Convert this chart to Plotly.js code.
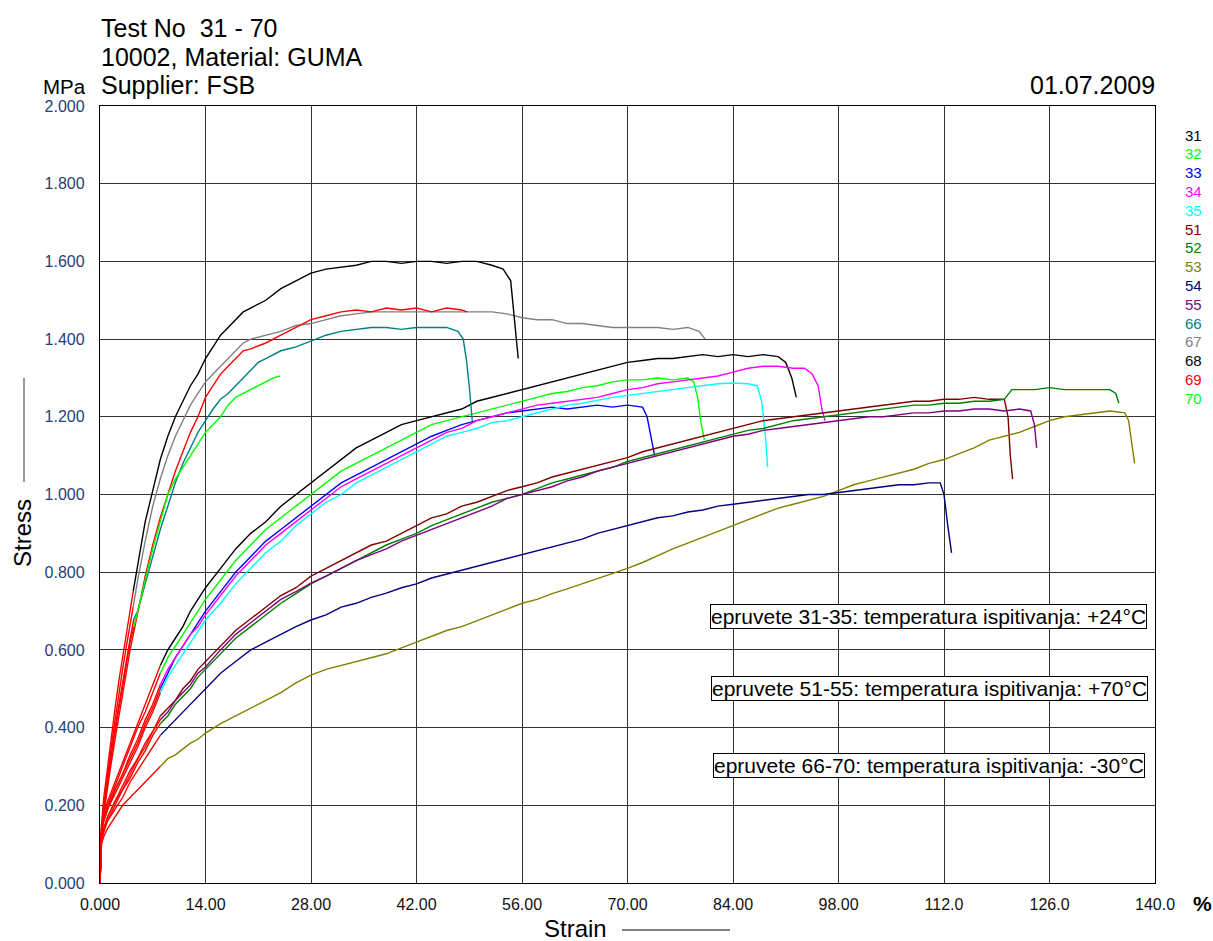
<!DOCTYPE html>
<html><head><meta charset="utf-8">
<script src="https://cdn.plot.ly/plotly-3.0.1.min.js"></script>
<style>html,body{margin:0;padding:0;background:#fff;}#chart{width:1213px;height:941px;}</style>
</head><body><div id="chart"></div>
<script>
// ---------- tick labels ----------
const xTickVals = [0,14,28,42,56,70,84,98,112,126,140];
const xTickText = ['0.000','14.00','28.00','42.00','56.00','70.00','84.00','98.00','112.0','126.0','140.0'];
const yTickVals = [0,0.2,0.4,0.6,0.8,1.0,1.2,1.4,1.6,1.8,2.0];
const yTickText = ['0.000','0.200','0.400','0.600','0.800','1.000','1.200','1.400','1.600','1.800','2.000'];

// ---------- specimens ----------
const seriesNames  = ['31','32','33','34','35','51','52','53','54','55','66','67','68','69','70'];
const seriesColors = ['#000000','#00ff00','#0000ff','#ff00ff','#00ffff','#800000','#008000','#808000','#000080','#800080','#008080','#808080','#000000','#ff0000','#00ff00'];
const preloadEnd   = [8,8,8,8,8,8,8,8,8,8,4.5,4.5,4.5,4.5,4.5];

// +24 °C
const x31 = [0,0.2,0.5,1,2,3,4,5,6,7,8,9,10,11,12,13,14,16,18,20,22,24,26,28,30,32,34,36,38,40,42,44,46,48,50,52,54,56,58,60,62,64,66,68,70,72,74,76,78,80,82,84,86,88,90,91,91.8,92.4];
const y31 = [0,0.15,0.18,0.21,0.26,0.31,0.36,0.41,0.46,0.51,0.56,0.6,0.63,0.66,0.7,0.73,0.76,0.81,0.86,0.9,0.93,0.97,1.0,1.03,1.06,1.09,1.12,1.14,1.16,1.18,1.19,1.2,1.21,1.22,1.24,1.25,1.26,1.27,1.28,1.29,1.3,1.31,1.32,1.33,1.34,1.345,1.35,1.35,1.355,1.36,1.355,1.36,1.355,1.36,1.355,1.34,1.3,1.25];
const x32 = [0,0.2,0.5,1,2,3,4,5,6,7,8,9,10,11,12,13,14,16,18,20,22,24,26,28,30,32,34,36,38,40,42,44,46,48,50,52,54,56,58,60,62,64,66,68,70,72,74,76,78,78.8,79.3,79.8,80.2];
const y32 = [0,0.14,0.17,0.2,0.25,0.3,0.35,0.4,0.44,0.49,0.54,0.58,0.61,0.64,0.67,0.7,0.73,0.78,0.83,0.87,0.91,0.94,0.97,1.0,1.03,1.06,1.08,1.1,1.12,1.14,1.16,1.18,1.19,1.2,1.21,1.22,1.23,1.24,1.25,1.26,1.265,1.275,1.28,1.29,1.295,1.295,1.3,1.295,1.3,1.29,1.25,1.18,1.14];
const x33 = [0,0.2,0.5,1,2,3,4,5,6,7,8,9,10,11,12,13,14,16,18,20,22,24,26,28,30,32,34,36,38,40,42,44,46,48,50,52,54,56,58,60,62,64,66,68,70,72,72.6,73.1,73.6];
const y33 = [0,0.14,0.16,0.19,0.24,0.28,0.32,0.36,0.41,0.45,0.5,0.54,0.58,0.61,0.64,0.67,0.7,0.75,0.8,0.84,0.88,0.91,0.94,0.97,1.0,1.03,1.05,1.07,1.09,1.11,1.13,1.15,1.165,1.18,1.19,1.2,1.21,1.215,1.22,1.225,1.22,1.225,1.23,1.225,1.23,1.225,1.2,1.15,1.1];
const x34 = [0,0.2,0.5,1,2,3,4,5,6,7,8,9,10,11,12,13,14,16,18,20,22,24,26,28,30,32,34,36,38,40,42,44,46,48,50,52,54,56,58,60,62,64,66,68,70,72,74,76,78,80,82,84,86,88,90,92,93.5,94.5,95.3,95.8,96.2];
const y34 = [0,0.14,0.16,0.19,0.24,0.28,0.33,0.37,0.42,0.46,0.51,0.55,0.58,0.61,0.64,0.66,0.69,0.74,0.79,0.83,0.87,0.9,0.93,0.96,0.99,1.02,1.04,1.06,1.08,1.1,1.12,1.14,1.16,1.17,1.19,1.2,1.21,1.22,1.23,1.235,1.24,1.245,1.25,1.26,1.27,1.275,1.285,1.29,1.295,1.3,1.305,1.315,1.325,1.33,1.33,1.325,1.325,1.31,1.28,1.22,1.19];
const x35 = [0,0.2,0.5,1,2,3,4,5,6,7,8,9,10,11,12,13,14,16,18,20,22,24,26,28,30,32,34,36,38,40,42,44,46,48,50,52,54,56,58,60,62,64,66,68,70,72,74,76,78,80,82,84,86,87.2,87.8,88.3,88.6];
const y35 = [0,0.13,0.16,0.19,0.23,0.27,0.31,0.35,0.4,0.44,0.49,0.53,0.56,0.59,0.62,0.65,0.677,0.72,0.77,0.81,0.85,0.88,0.92,0.95,0.98,1.0,1.03,1.05,1.07,1.09,1.11,1.13,1.15,1.16,1.17,1.185,1.19,1.2,1.21,1.22,1.23,1.235,1.243,1.25,1.255,1.26,1.265,1.27,1.275,1.28,1.285,1.287,1.285,1.28,1.24,1.15,1.07];

// +70 °C
const x51 = [0,0.2,0.5,1,2,3,4,5,6,7,8,9,10,11,12,13,14,16,18,20,22,24,26,28,30,32,34,36,38,40,42,44,46,48,50,52,54,56,58,60,62,64,66,68,70,72,74,76,78,80,82,84,86,88,90,92,94,96,98,100,102,104,106,108,110,112,114,116,118,120,120.5,120.8,121.1];
const y51 = [0,0.12,0.14,0.17,0.21,0.25,0.29,0.32,0.36,0.39,0.43,0.45,0.47,0.5,0.52,0.55,0.57,0.61,0.65,0.68,0.71,0.74,0.76,0.79,0.81,0.83,0.85,0.87,0.88,0.9,0.92,0.94,0.95,0.97,0.98,0.995,1.01,1.02,1.03,1.045,1.055,1.065,1.075,1.085,1.095,1.11,1.12,1.13,1.14,1.15,1.16,1.17,1.18,1.19,1.195,1.2,1.205,1.21,1.215,1.22,1.225,1.23,1.235,1.24,1.24,1.245,1.245,1.25,1.245,1.245,1.2,1.1,1.04];
const x52 = [0,0.2,0.5,1,2,3,4,5,6,7,8,9,10,11,12,13,14,16,18,20,22,24,26,28,30,32,34,36,38,40,42,44,46,48,50,52,54,56,58,60,62,64,66,68,70,72,74,76,78,80,82,84,86,88,90,92,94,96,98,100,102,104,106,108,110,112,114,116,118,120,121,122,124,126,128,130,132,134,134.8,135.2];
const y52 = [0,0.12,0.14,0.16,0.2,0.24,0.27,0.31,0.34,0.38,0.41,0.43,0.46,0.48,0.5,0.53,0.55,0.59,0.63,0.66,0.69,0.72,0.745,0.77,0.79,0.81,0.83,0.85,0.87,0.885,0.9,0.92,0.935,0.95,0.965,0.98,0.99,1.0,1.015,1.03,1.04,1.05,1.06,1.07,1.085,1.095,1.105,1.115,1.125,1.135,1.145,1.155,1.165,1.17,1.18,1.19,1.195,1.2,1.205,1.21,1.215,1.22,1.225,1.23,1.23,1.235,1.235,1.24,1.24,1.245,1.27,1.27,1.27,1.275,1.27,1.27,1.27,1.27,1.26,1.235];
const x53 = [0,0.2,0.5,1,2,3,4,5,6,7,8,9,10,11,12,13,14,16,18,20,22,24,26,28,30,32,34,36,38,40,42,44,46,48,50,52,54,56,58,60,62,64,66,68,70,72,74,76,78,80,82,84,86,88,90,92,94,96,98,100,102,104,106,108,110,112,114,116,118,120,122,124,126,128,130,132,134,136,136.5,137,137.3];
const y53 = [0,0.1,0.12,0.14,0.17,0.2,0.22,0.24,0.26,0.28,0.3,0.32,0.33,0.345,0.36,0.37,0.386,0.41,0.43,0.45,0.47,0.49,0.515,0.535,0.55,0.56,0.57,0.58,0.59,0.605,0.62,0.635,0.65,0.66,0.675,0.69,0.705,0.72,0.73,0.745,0.757,0.77,0.782,0.795,0.81,0.825,0.843,0.86,0.875,0.89,0.905,0.92,0.935,0.95,0.965,0.975,0.985,0.995,1.01,1.025,1.035,1.045,1.055,1.065,1.08,1.09,1.105,1.12,1.14,1.15,1.16,1.175,1.19,1.2,1.205,1.21,1.215,1.21,1.19,1.12,1.08];
const x54 = [0,0.2,0.5,1,2,3,4,5,6,7,8,9,10,11,12,13,14,16,18,20,22,24,26,28,30,32,34,36,38,40,42,44,46,48,50,52,54,56,58,60,62,64,66,68,70,72,74,76,78,80,82,84,86,88,90,92,94,96,98,100,102,104,106,108,110,111.5,112,112.5,113];
const y54 = [0,0.11,0.13,0.16,0.19,0.22,0.26,0.29,0.32,0.35,0.38,0.4,0.42,0.44,0.46,0.48,0.5,0.54,0.57,0.6,0.62,0.64,0.66,0.677,0.69,0.71,0.72,0.735,0.746,0.76,0.77,0.785,0.795,0.805,0.815,0.825,0.835,0.845,0.855,0.865,0.875,0.885,0.9,0.91,0.92,0.93,0.94,0.945,0.955,0.96,0.97,0.975,0.98,0.985,0.99,0.995,1.0,1.0,1.005,1.01,1.015,1.02,1.025,1.025,1.03,1.03,1.0,0.92,0.85];
const x55 = [0,0.2,0.5,1,2,3,4,5,6,7,8,9,10,11,12,13,14,16,18,20,22,24,26,28,30,32,34,36,38,40,42,44,46,48,50,52,54,56,58,60,62,64,66,68,70,72,74,76,78,80,82,84,86,88,90,92,94,96,98,100,102,104,106,108,110,112,114,116,118,120,122,123.5,124,124.3];
const y55 = [0,0.12,0.14,0.17,0.21,0.24,0.28,0.32,0.35,0.39,0.42,0.44,0.47,0.49,0.51,0.54,0.556,0.6,0.64,0.67,0.7,0.73,0.75,0.772,0.79,0.81,0.83,0.845,0.86,0.88,0.895,0.91,0.925,0.94,0.955,0.97,0.99,1.0,1.01,1.02,1.035,1.045,1.06,1.07,1.08,1.09,1.1,1.11,1.12,1.13,1.14,1.15,1.155,1.165,1.17,1.175,1.18,1.185,1.19,1.195,1.2,1.2,1.205,1.21,1.21,1.215,1.215,1.22,1.22,1.215,1.22,1.215,1.18,1.12];

// -30 °C
const x66 = [0,0.2,0.5,1,1.5,2,2.5,3,3.5,4,4.5,5,6,7,8,9,10,11,12,13,14,15,16,17,18,19,20,21,22,24,26,28,30,32,34,36,38,40,42,44,46,47.5,48.2,48.6,49,49.4];
const y66 = [0,0.12,0.18,0.26,0.33,0.4,0.46,0.52,0.58,0.63,0.68,0.7,0.77,0.84,0.91,0.97,1.03,1.08,1.12,1.16,1.19,1.22,1.245,1.26,1.28,1.3,1.32,1.34,1.35,1.37,1.38,1.395,1.41,1.42,1.425,1.43,1.43,1.425,1.43,1.43,1.43,1.42,1.4,1.35,1.28,1.19];
const x67 = [0,0.2,0.5,1,1.5,2,2.5,3,3.5,4,4.4,5,6,7,8,9,10,11,12,13,14,15,16,17,18,19,20,22,24,26,28,30,32,34,36,38,40,42,44,46,48,50,52,54,56,58,60,62,64,66,68,70,72,74,76,78,79.5,80.3];
const y67 = [0,0.13,0.2,0.28,0.35,0.42,0.49,0.55,0.61,0.67,0.71,0.78,0.88,0.97,1.04,1.1,1.15,1.19,1.23,1.26,1.29,1.31,1.33,1.35,1.37,1.39,1.4,1.41,1.42,1.435,1.44,1.45,1.46,1.465,1.47,1.47,1.47,1.47,1.47,1.47,1.47,1.47,1.47,1.465,1.455,1.45,1.45,1.44,1.44,1.435,1.43,1.43,1.43,1.43,1.425,1.43,1.42,1.4];
const x68 = [0,0.2,0.5,1,1.5,2,2.5,3,3.5,4,4.4,5,6,7,8,9,10,11,12,13,14,15,16,17,18,19,20,22,24,26,28,30,32,34,36,38,40,42,44,46,48,50,52,53.5,54.5,55,55.5];
const y68 = [0,0.15,0.22,0.3,0.37,0.45,0.52,0.58,0.64,0.7,0.75,0.82,0.93,1.01,1.09,1.15,1.2,1.24,1.28,1.31,1.35,1.38,1.41,1.43,1.45,1.47,1.48,1.5,1.53,1.55,1.57,1.58,1.585,1.59,1.6,1.6,1.595,1.6,1.6,1.595,1.6,1.6,1.59,1.58,1.55,1.45,1.35];
const x69 = [0,0.2,0.5,1,1.5,2,2.5,3,3.5,4,5,6,7,8,9,10,11,12,13,14,15,16,17,18,19,20,22,24,26,28,30,32,34,36,38,40,42,44,46,48,48.7];
const y69 = [0,0.12,0.18,0.25,0.31,0.37,0.43,0.49,0.55,0.6,0.7,0.79,0.87,0.94,1.0,1.06,1.11,1.16,1.2,1.25,1.28,1.31,1.33,1.35,1.37,1.375,1.39,1.41,1.43,1.45,1.46,1.47,1.475,1.47,1.48,1.475,1.48,1.47,1.48,1.475,1.47];
const x70 = [0,0.2,0.5,1,1.5,2,2.5,3,3.5,4,4.5,5,6,7,8,9,10,11,12,13,14,15,16,17,18,19,20,21,22,23,23.9];
const y70 = [0,0.12,0.18,0.26,0.33,0.39,0.45,0.51,0.57,0.62,0.66,0.7,0.78,0.86,0.93,1.0,1.04,1.07,1.1,1.13,1.16,1.18,1.2,1.23,1.25,1.26,1.27,1.28,1.29,1.3,1.305];

const allX = [x31,x32,x33,x34,x35,x51,x52,x53,x54,x55,x66,x67,x68,x69,x70];
const allY = [y31,y32,y33,y34,y35,y51,y52,y53,y54,y55,y66,y67,y68,y69,y70];

// ---------- text ----------
const headerLines = ['Test No\u00a0\u00a031 - 70','10002, Material: GUMA','Supplier: FSB'];
const dateText = '01.07.2009';
const noteTexts = ['epruvete 31-35: temperatura ispitivanja: +24°C','epruvete 51-55: temperatura ispitivanja: +70°C','epruvete 66-70: temperatura ispitivanja: -30°C'];

// ---------- build ----------
const FONT = 'Liberation Sans, Arial, sans-serif';
const traces = [];
const preTraces = [];
for (let i = 0; i < seriesNames.length; i++) {
  const xs = allX[i], ys = allY[i];
  let cut = 0;
  for (let k = 0; k < xs.length; k++) { if (xs[k] <= preloadEnd[i]) cut = k; }
  traces.push({x: xs.slice(cut), y: ys.slice(cut), type: 'scatter', mode: 'lines', name: seriesNames[i],
    line: {color: seriesColors[i], width: 1.4}, showlegend: false, hoverinfo: 'skip'});
  preTraces.push({x: xs.slice(0, cut + 1), y: ys.slice(0, cut + 1), type: 'scatter', mode: 'lines', name: seriesNames[i] + ' pre',
    line: {color: '#ff0000', width: 1.4}, showlegend: false, hoverinfo: 'skip'});
}

// plot area in pixels
const L = 100, R = 1155, T = 106, B = 883;
const px2x = p => (p - L) / (R - L);
const px2y = p => (B - p) / (B - T);

const ann = [];
headerLines.forEach((t, i) => ann.push({text: t, xref: 'paper', yref: 'paper', x: px2x(99), y: px2y([28, 57, 85][i]),
  xanchor: 'left', yanchor: 'middle', showarrow: false, font: {family: FONT, size: 25, color: '#000'}}));
ann.push({text: dateText, xref: 'paper', yref: 'paper', x: px2x(1157), y: px2y(85), xanchor: 'right', yanchor: 'middle',
  showarrow: false, font: {family: FONT, size: 25, color: '#000'}});
ann.push({text: 'MPa', xref: 'paper', yref: 'paper', x: px2x(88), y: px2y(87), xanchor: 'right', yanchor: 'middle',
  showarrow: false, font: {family: FONT, size: 20.5, color: '#000'}});
ann.push({text: '%', xref: 'paper', yref: 'paper', x: px2x(1191), y: px2y(903), xanchor: 'left', yanchor: 'middle',
  showarrow: false, font: {family: FONT, size: 21, color: '#000', weight: 'bold'}});
ann.push({text: 'Strain', xref: 'paper', yref: 'paper', x: px2x(575), y: px2y(928), xanchor: 'center', yanchor: 'middle',
  showarrow: false, font: {family: FONT, size: 24, color: '#000'}});
ann.push({text: 'Stress', xref: 'paper', yref: 'paper', x: px2x(22), y: px2y(533), xanchor: 'center', yanchor: 'middle',
  textangle: -90, showarrow: false, font: {family: FONT, size: 24, color: '#000'}});
const noteY = [616, 688, 765], noteX = [928, 929, 929];
noteTexts.forEach((t, i) => ann.push({text: t, xref: 'paper', yref: 'paper', x: px2x(noteX[i]), y: px2y(noteY[i]),
  xanchor: 'center', yanchor: 'middle', showarrow: false, bgcolor: '#fff', bordercolor: '#000', borderwidth: 1, borderpad: 0,
  font: {family: FONT, size: 21, color: '#000'}}));
seriesNames.forEach((n, i) => ann.push({text: n, xref: 'paper', yref: 'paper', x: px2x(1204), y: px2y(135 + i * 18.8),
  xanchor: 'right', yanchor: 'middle', showarrow: false, font: {family: FONT, size: 15, color: seriesColors[i]}}));

const shapes = [
  {type: 'line', xref: 'paper', yref: 'paper', x0: px2x(622), x1: px2x(730), y0: px2y(930), y1: px2y(930), line: {color: '#000', width: 1}},
  {type: 'line', xref: 'paper', yref: 'paper', x0: px2x(24), x1: px2x(24), y0: px2y(378), y1: px2y(482), line: {color: '#555', width: 1.2}}
];

const layout = {
  width: 1213, height: 941,
  margin: {l: L, r: 1213 - R, t: T, b: 941 - B, pad: 0},
  paper_bgcolor: '#fff', plot_bgcolor: '#fff',
  showlegend: false,
  xaxis: {range: [0, 140], tickvals: xTickVals, ticktext: xTickText, showgrid: true, gridcolor: '#333', gridwidth: 1,
    zeroline: false, showline: true, linecolor: '#000', linewidth: 1.2, mirror: true, ticks: '', ticklabelstandoff: 7,
    tickfont: {family: FONT, size: 16, color: '#111'}},
  yaxis: {range: [0, 2], tickvals: yTickVals, ticktext: yTickText, showgrid: true, gridcolor: '#333', gridwidth: 1,
    zeroline: false, showline: true, linecolor: '#000', linewidth: 1.2, mirror: true, ticks: '', ticklabelstandoff: 11,
    tickfont: {family: FONT, size: 16, color: '#24407a'}},
  annotations: ann, shapes: shapes,
  font: {family: FONT}
};

Plotly.newPlot('chart', traces.concat(preTraces), layout, {staticPlot: true, displayModeBar: false});
</script></body></html>
